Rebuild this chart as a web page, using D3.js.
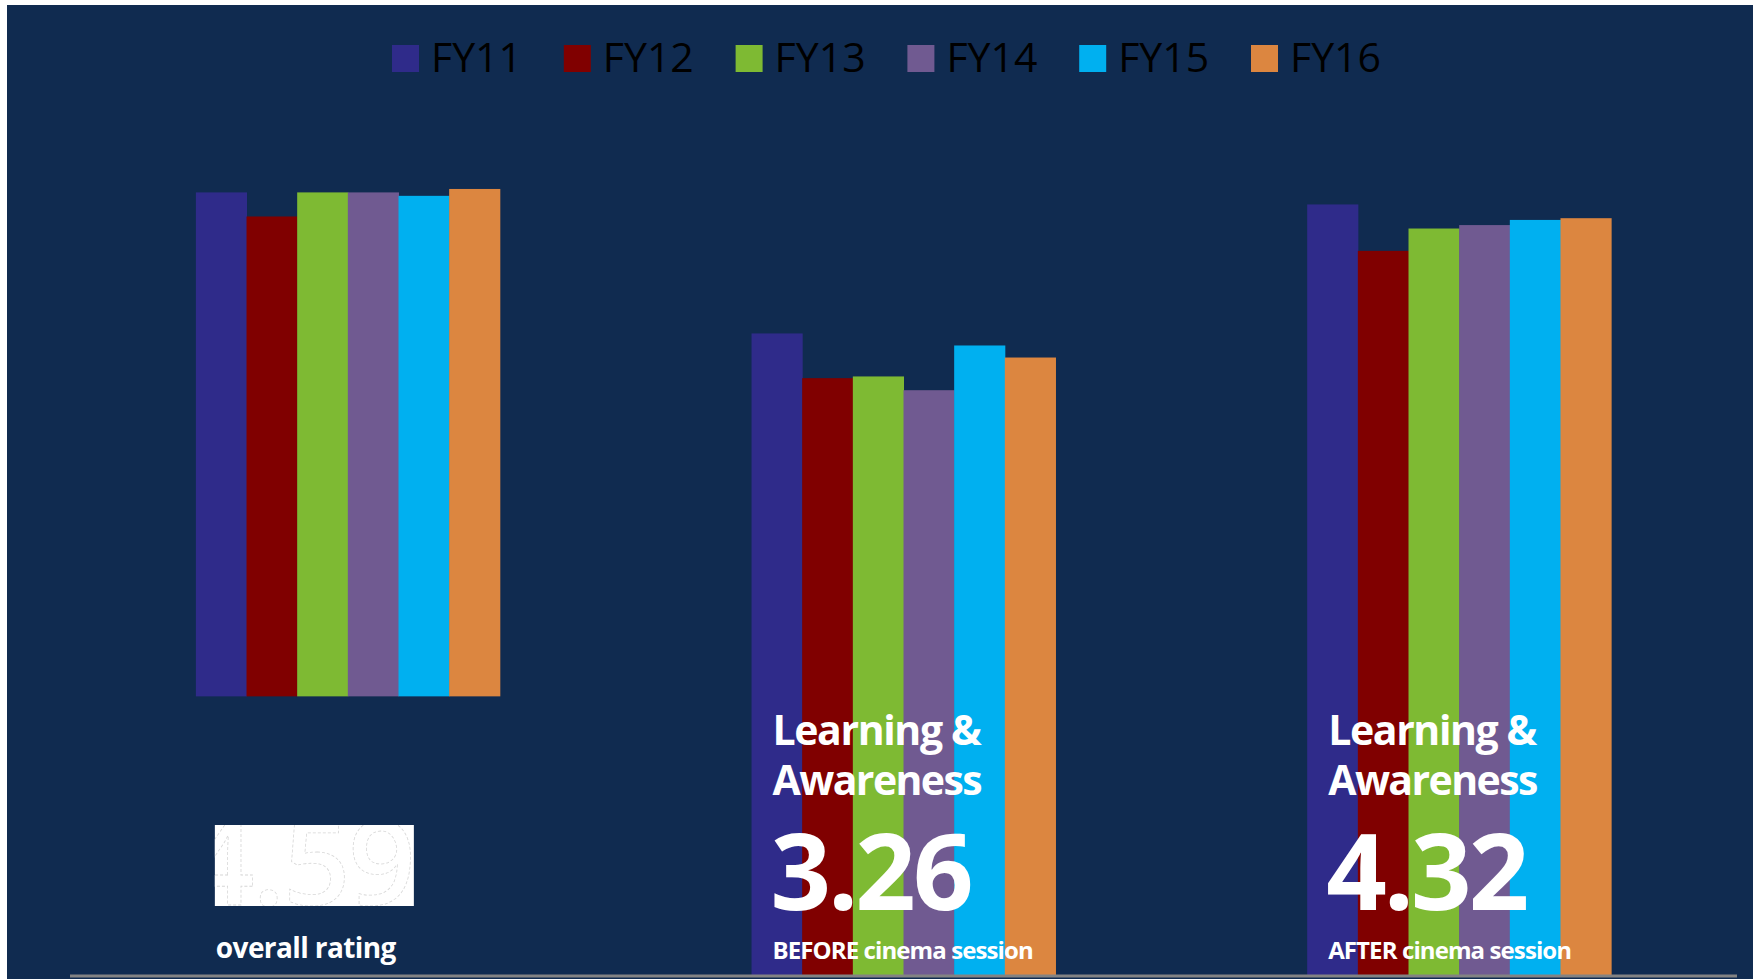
<!DOCTYPE html>
<html>
<head>
<meta charset="utf-8">
<script src="https://cdn.jsdelivr.net/npm/d3@7"></script>
<style>
  body { margin: 0; background: #ffffff; }
  svg { display: block; }
</style>
</head>
<body>
<div id="chart"></div>
<script>
// chart data
var groups = ["overall", "before", "after"];
var series = ["FY11", "FY12", "FY13", "FY14", "FY15", "FY16"];
var overallValues = [4.55, 4.41, 4.55, 4.55, 4.53, 4.57];
var beforeValues = [3.73, 3.47, 3.48, 3.40, 3.66, 3.59];
var afterValues = [4.48, 4.21, 4.34, 4.36, 4.39, 4.40];
var groupBase = [1.62, 0, 0];   // overall group floats above the axis
var scores = ["4.59", "3.26", "4.32"];
var captions = ["overall rating", "BEFORE cinema session", "AFTER cinema session"];
var colors = ["#2f2b8a", "#800000", "#7eba33", "#705a91", "#00b0f0", "#dc8640"];

var w = 1761;
var h = 979;

var svg = d3.select("#chart")
            .append("svg")
              .attr("width", w)
              .attr("height", h);

// navy panel
svg.append("rect")
   .attr("x", 7).attr("y", 5)
   .attr("width", 1746).attr("height", 974)
   .attr("fill", "#102b50");

var xScale = d3.scaleBand()
               .domain(groups)
               .range([70, 1737])
               .paddingInner(0.453)
               .paddingOuter(0.2265);

var xInner = d3.scaleBand()
               .domain(series)
               .range([0, xScale.bandwidth()]);

var yScale = d3.scaleLinear()
               .domain([0, 5])
               .range([975, 115]);

var color = d3.scaleOrdinal().domain(series).range(colors);

var allValues = [overallValues, beforeValues, afterValues];
var rows = [];
groups.forEach(function(g, i) {
  series.forEach(function(s, j) {
    rows.push({group: g, key: s, base: groupBase[i], value: allValues[i][j]});
  });
});

svg.selectAll("rect.bar")
   .data(rows)
   .enter()
   .append("rect")
   .attr("class", "bar")
   .attr("x", function(d) { return xScale(d.group) + xInner(d.key); })
   .attr("width", xInner.bandwidth() + 0.5)
   .attr("y", function(d) { return yScale(d.value); })
   .attr("height", function(d) { return yScale(d.base) - yScale(d.value); })
   .attr("fill", function(d) { return color(d.key); });

// baseline
svg.append("line")
   .attr("x1", 70).attr("x2", 1737)
   .attr("y1", yScale(0) + 1).attr("y2", yScale(0) + 1)
   .attr("stroke", "#838383")
   .attr("stroke-width", 3);

// legend
var legend = svg.append("g").attr("transform", "translate(392, 45)");
var item = legend.selectAll("g")
                 .data(series)
                 .enter()
                 .append("g")
                 .attr("transform", function(d, i) { return "translate(" + (i * 171.8) + ",0)"; });
item.append("rect")
    .attr("width", 27).attr("height", 27)
    .attr("fill", function(d) { return color(d); });
item.append("text")
    .attr("x", 39).attr("y", 27)
    .attr("font-family", "Open Sans")
    .attr("font-size", 41)
    .attr("fill", "#000")
    .text(function(d) { return d; });

// annotations
var font = "Open Sans";

// overall: white box with the score clipped inside
var gx0 = xScale("overall") + 19;
svg.append("clipPath").attr("id", "boxclip")
   .append("rect")
   .attr("x", gx0).attr("y", 825).attr("width", 199).attr("height", 81);
svg.append("rect")
   .attr("x", gx0).attr("y", 825).attr("width", 199).attr("height", 81)
   .attr("fill", "#ffffff");
svg.append("text")
   .attr("clip-path", "url(#boxclip)")
   .attr("x", gx0 + 199).attr("y", 905)
   .attr("text-anchor", "end")
   .attr("font-family", font).attr("font-weight", 600)
   .attr("font-size", 118)
   .attr("letter-spacing", -2)
   .attr("fill", "#ffffff")
   .attr("stroke", "#d8d8d8")
   .attr("stroke-width", 0.8)
   .attr("stroke-dasharray", "3,2")
   .text(scores[0]);
svg.append("text")
   .attr("x", gx0 + 1).attr("y", 958)
   .attr("font-family", font).attr("font-weight", 700)
   .attr("font-size", 28)
   .attr("letter-spacing", -0.6)
   .attr("fill", "#ffffff")
   .text(captions[0]);

[1, 2].forEach(function(i) {
  var x = xScale(groups[i]) + 21;
  var g = svg.append("g").attr("fill", "#ffffff")
             .attr("font-family", font).attr("font-weight", 700);
  g.append("text").attr("x", x).attr("y", 745)
   .attr("font-size", 41).attr("letter-spacing", -1.4)
   .text("Learning &");
  g.append("text").attr("x", x).attr("y", 795)
   .attr("font-size", 41).attr("letter-spacing", -1.6)
   .text("Awareness");
  g.append("text").attr("x", x - 2).attr("y", 910)
   .attr("font-size", 106).attr("letter-spacing", -3)
   .text(scores[i]);
  g.append("text").attr("x", x).attr("y", 959)
   .attr("font-size", 24).attr("letter-spacing", -0.9)
   .text(captions[i]);
});
</script>
</body>
</html>
